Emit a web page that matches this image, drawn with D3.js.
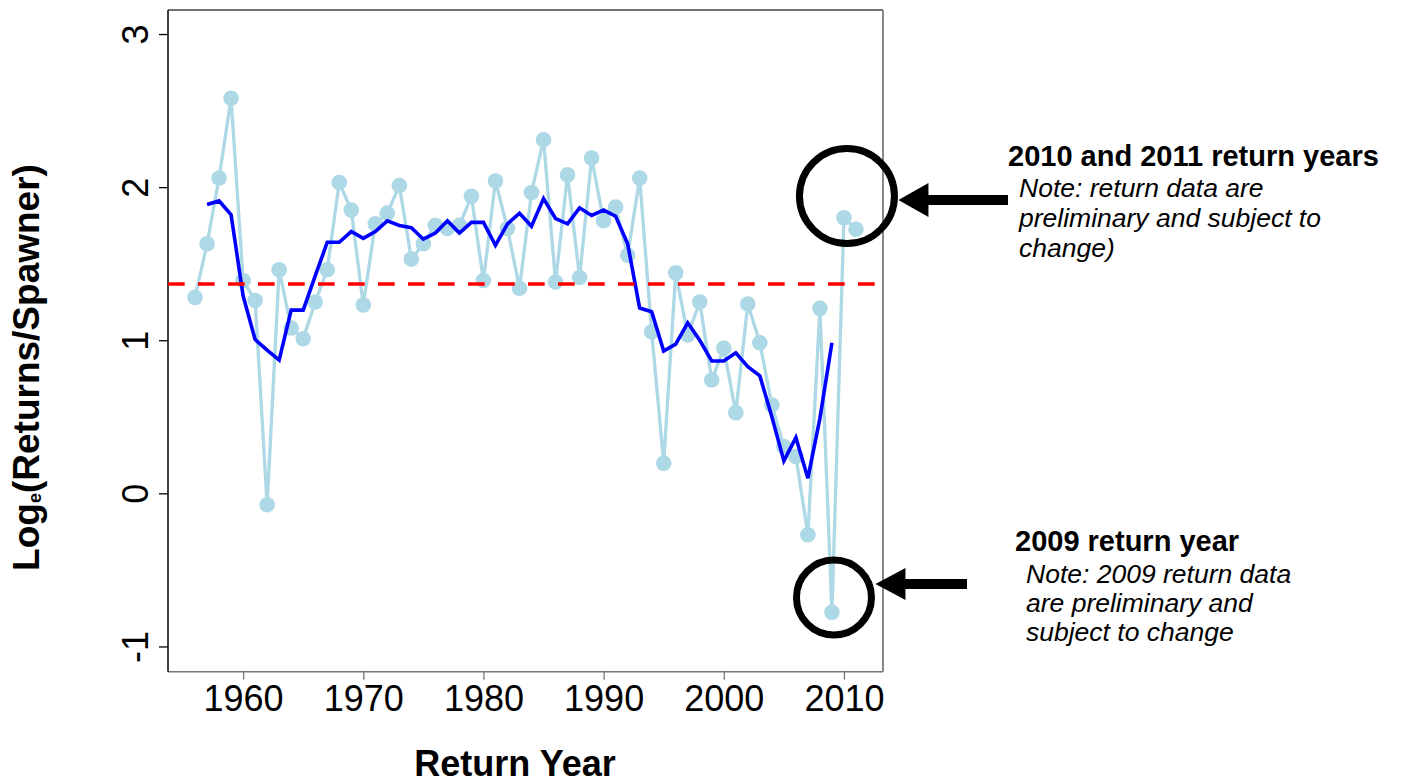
<!DOCTYPE html>
<html>
<head>
<meta charset="utf-8">
<script src="https://cdn.jsdelivr.net/npm/d3@7"></script>
<style>
  html, body { margin: 0; padding: 0; background: #ffffff; }
  svg { display: block; font-family: "Liberation Sans", Arial, sans-serif; }
</style>
</head>
<body>
<svg id="chart" width="1401" height="784"></svg>
<script>
// ---- Data ----
const years = d3.range(1956, 2012);
const logRS = [
  1.28, 1.63, 2.06, 2.58, 1.39, 1.26, -0.075, 1.46, 1.08, 1.01,
  1.25, 1.46, 2.03, 1.85, 1.23, 1.76, 1.83, 2.01, 1.53, 1.63,
  1.75, 1.73, 1.75, 1.94, 1.39, 2.04, 1.73, 1.34, 1.965, 2.31,
  1.38, 2.08, 1.41, 2.19, 1.78, 1.87, 1.555, 2.06, 1.055, 0.197,
  1.44, 1.034, 1.25, 0.74, 0.947, 0.527, 1.236, 0.984, 0.577, 0.305,
  0.24, -0.27, 1.208, -0.777, 1.80, 1.725
];
const smoothYears = d3.range(1957, 2010);
const smoothVals = [
  1.886, 1.91, 1.82, 1.29, 1.005, 0.935, 0.87, 1.197, 1.197, 1.42,
  1.64, 1.64, 1.71, 1.665, 1.71, 1.78, 1.75, 1.735, 1.66, 1.70,
  1.78, 1.70, 1.77, 1.77, 1.62, 1.76, 1.83, 1.745, 1.925, 1.795,
  1.76, 1.865, 1.815, 1.85, 1.81, 1.63, 1.21, 1.186, 0.93, 0.975,
  1.114, 1.0, 0.864, 0.864, 0.918, 0.827, 0.768, 0.50, 0.212, 0.364,
  0.099, 0.49, 0.984
];
const meanValue = 1.367;
const xTicks = [1960, 1970, 1980, 1990, 2000, 2010];
const yTicks = [-1, 0, 1, 2, 3];
const xTitle = "Return Year";
const note1Title = "2010 and 2011 return years";
const note1Lines = ["Note: return data are", "preliminary and subject to", "change)"];
const note2Title = "2009 return year";
const note2Lines = ["Note: 2009 return data", "are preliminary and", "subject to change"];

// ---- Layout ----
const L = 168, R = 883, T = 10, B = 671.7;
const svg = d3.select("#chart");
const x = d3.scaleLinear().domain([1953.75, 2013.25]).range([L, R]);
const y = d3.scaleLinear().domain([-1.165, 3.157]).range([B, T]);

// frame
svg.append("line").attr("x1", L).attr("x2", R).attr("y1", T).attr("y2", T)
  .attr("stroke", "#444").attr("stroke-width", 1.3);
svg.append("line").attr("x1", R).attr("x2", R).attr("y1", T).attr("y2", B)
  .attr("stroke", "#888").attr("stroke-width", 2);
svg.append("line").attr("x1", L).attr("x2", R).attr("y1", B).attr("y2", B)
  .attr("stroke", "#777").attr("stroke-width", 1.5);

// x axis
const xAxis = svg.append("g").attr("transform", `translate(0,${B})`)
  .call(d3.axisBottom(x).tickValues(xTicks).tickFormat(d => String(d)).tickSize(8).tickPadding(6));
xAxis.select(".domain").remove();
xAxis.selectAll(".tick line").attr("stroke", "#777").attr("stroke-width", 1.3);
xAxis.selectAll(".tick text").attr("font-size", 36).attr("fill", "#000")
  .attr("font-family", "Liberation Sans, Arial, sans-serif");

// y axis
const yAxis = svg.append("g").attr("transform", `translate(${L},0)`)
  .call(d3.axisLeft(y).tickValues(yTicks).tickFormat(d => String(d)).tickSize(9));
yAxis.select(".domain").attr("stroke", "#000").attr("stroke-width", 1.5)
  .attr("d", `M0,${T}V${B}`);
yAxis.selectAll(".tick line").attr("stroke", "#000").attr("stroke-width", 1.3);
yAxis.selectAll(".tick text")
  .attr("font-size", 36).attr("fill", "#000")
  .attr("font-family", "Liberation Sans, Arial, sans-serif")
  .attr("x", null).attr("dy", null)
  .attr("text-anchor", "middle")
  .attr("transform", "translate(-20,0) rotate(-90)");

// axis titles
svg.append("text").attr("x", 515).attr("y", 776).attr("text-anchor", "middle")
  .attr("font-size", 36).attr("font-weight", "bold").text(xTitle);

const yt = svg.append("text")
  .attr("transform", "translate(38.5,367.5) rotate(-90)")
  .attr("text-anchor", "middle").attr("font-size", 37).attr("font-weight", "bold");
yt.append("tspan").text("Log");
yt.append("tspan").attr("font-size", 18).attr("dy", 2).text("e");
yt.append("tspan").attr("dy", -2).text("(Returns/Spawner)");

// data layers
svg.append("clipPath").attr("id", "plotclip").append("rect")
  .attr("x", L).attr("y", T).attr("width", R - L).attr("height", B - T);
const plot = svg.append("g").attr("clip-path", "url(#plotclip)");

const raw = years.map((yr, i) => ({ yr, v: logRS[i] }));
const sm = smoothYears.map((yr, i) => ({ yr, v: smoothVals[i] }));
const line = d3.line().x(d => x(d.yr)).y(d => y(d.v));

plot.append("path").datum(raw).attr("d", line)
  .attr("fill", "none").attr("stroke", "#ADD8E6").attr("stroke-width", 3.3)
  .attr("stroke-linejoin", "round");
plot.selectAll("circle.pt").data(raw).join("circle").attr("class", "pt")
  .attr("cx", d => x(d.yr)).attr("cy", d => y(d.v)).attr("r", 7.8)
  .attr("fill", "#ADD8E6");

plot.append("path").datum(sm).attr("d", line)
  .attr("fill", "none").attr("stroke", "#0000FF").attr("stroke-width", 3.6)
  .attr("stroke-linejoin", "miter");

plot.append("line").attr("x1", L).attr("x2", R)
  .attr("y1", y(meanValue)).attr("y2", y(meanValue))
  .attr("stroke", "#FF0000").attr("stroke-width", 3.5)
  .attr("stroke-dasharray", "16.7,13.3");

// annotations
const ann = svg.append("g");
const c1 = { cx: x(2010.25), cy: y(1.942), r: 47.5 };
const c2 = { cx: x(2009.17), cy: y(-0.68), r: 37.5 };
ann.append("circle").attr("cx", c1.cx).attr("cy", c1.cy).attr("r", c1.r)
  .attr("fill", "none").attr("stroke", "#000").attr("stroke-width", 7);
ann.append("circle").attr("cx", c2.cx).attr("cy", c2.cy).attr("r", c2.r)
  .attr("fill", "none").attr("stroke", "#000").attr("stroke-width", 7);

function arrow(tipX, cyA, headLen, headHalf, tailX, shaftHalf) {
  const pts = [
    [tipX, cyA], [tipX + headLen, cyA - headHalf], [tipX + headLen, cyA - shaftHalf],
    [tailX, cyA - shaftHalf], [tailX, cyA + shaftHalf], [tipX + headLen, cyA + shaftHalf],
    [tipX + headLen, cyA + headHalf]
  ];
  ann.append("polygon").attr("points", pts.map(p => p.join(",")).join(" ")).attr("fill", "#000");
}
arrow(c1.cx + c1.r + 4, 200, 30, 17, 1008, 5);
arrow(c2.cx + c2.r + 4, 584, 30, 16, 967, 5);

ann.append("text").attr("x", 1008).attr("y", 166).attr("font-size", 29)
  .attr("font-weight", "bold").text(note1Title);
note1Lines.forEach((t, i) => {
  ann.append("text").attr("x", 1019).attr("y", 197 + i * 30).attr("font-size", 26.5)
    .attr("font-style", "italic").text(t);
});
ann.append("text").attr("x", 1015).attr("y", 551).attr("font-size", 29)
  .attr("font-weight", "bold").text(note2Title);
note2Lines.forEach((t, i) => {
  ann.append("text").attr("x", 1026).attr("y", 583 + i * 29).attr("font-size", 26.5)
    .attr("font-style", "italic").text(t);
});
</script>
</body>
</html>
